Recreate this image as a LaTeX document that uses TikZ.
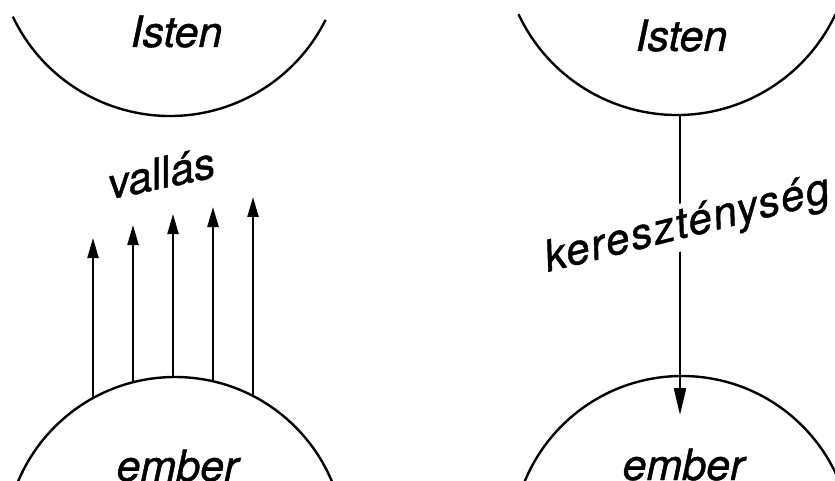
\documentclass[tikz,border=0pt]{standalone}
\usepackage{fontspec}
\setmainfont{TeX Gyre Heros}[ItalicFeatures={FakeBold=1}]
\usetikzlibrary{arrows.meta}
\begin{document}
\begin{tikzpicture}[x=1pt,y=-1pt,
  lab/.style={font=\fontsize{43}{50}\selectfont\itshape, inner sep=0pt, anchor=base},
  rim/.style={line width=2.4pt},
  ray/.style={line width=2.2pt, -{Triangle[length=20pt,width=11pt]}},
  downray/.style={line width=2.2pt, -{Triangle[length=27pt,width=12pt]}},
]
\useasboundingbox (0,0) rectangle (835,481);
\clip (0,0) rectangle (835,481);
% circles
\coordinate (godL) at (170,-58);
\coordinate (godR) at (677,-60);
\draw[rim] (godL) ++(154.6:174) arc[start angle=154.6, end angle=26.6, radius=174];
\draw[rim] (godR) ++(154.9:175) arc[start angle=154.9, end angle=25.2, radius=175];
\node[circle, draw, rim, minimum size=340pt, inner sep=0pt] (manL) at (175,547) {};
\node[circle, draw, rim, minimum size=340pt, inner sep=0pt] (manR) at (682,546) {};
% labels
\node[lab] (istenL) at (176.5,47) {Isten};
\node[lab] (istenR) at (681.5,51) {Isten};
\node[lab] (emberL) at (177.5,481) {ember};
\node[lab] (emberR) at (683.5,480) {ember};
\node[lab, rotate=12] (vallas) at (164,188) {vallás};
% left arrows
\coordinate (b1) at (93,398);  \coordinate (t1) at (93,238);
\coordinate (b2) at (133,382); \coordinate (t2) at (133,225);
\coordinate (b3) at (173,377); \coordinate (t3) at (173,214);
\coordinate (b4) at (213,381); \coordinate (t4) at (213,207);
\coordinate (b5) at (253,396); \coordinate (t5) at (253,197);
\foreach \i in {1,...,5} \draw[ray] (b\i) -- (t\i);
% right arrow
\coordinate (godRbot) at (680,115);
\coordinate (manRtip) at (680,415);
\draw[downray] (godRbot) -- (manRtip);
\node[lab, rotate=14, fill=white, inner sep=3pt, font=\fontsize{43}{50}\selectfont\itshape\addfontfeatures{LetterSpace=4}] (keresz) at (690,236.5) {kereszténység};
\end{tikzpicture}
\end{document}
